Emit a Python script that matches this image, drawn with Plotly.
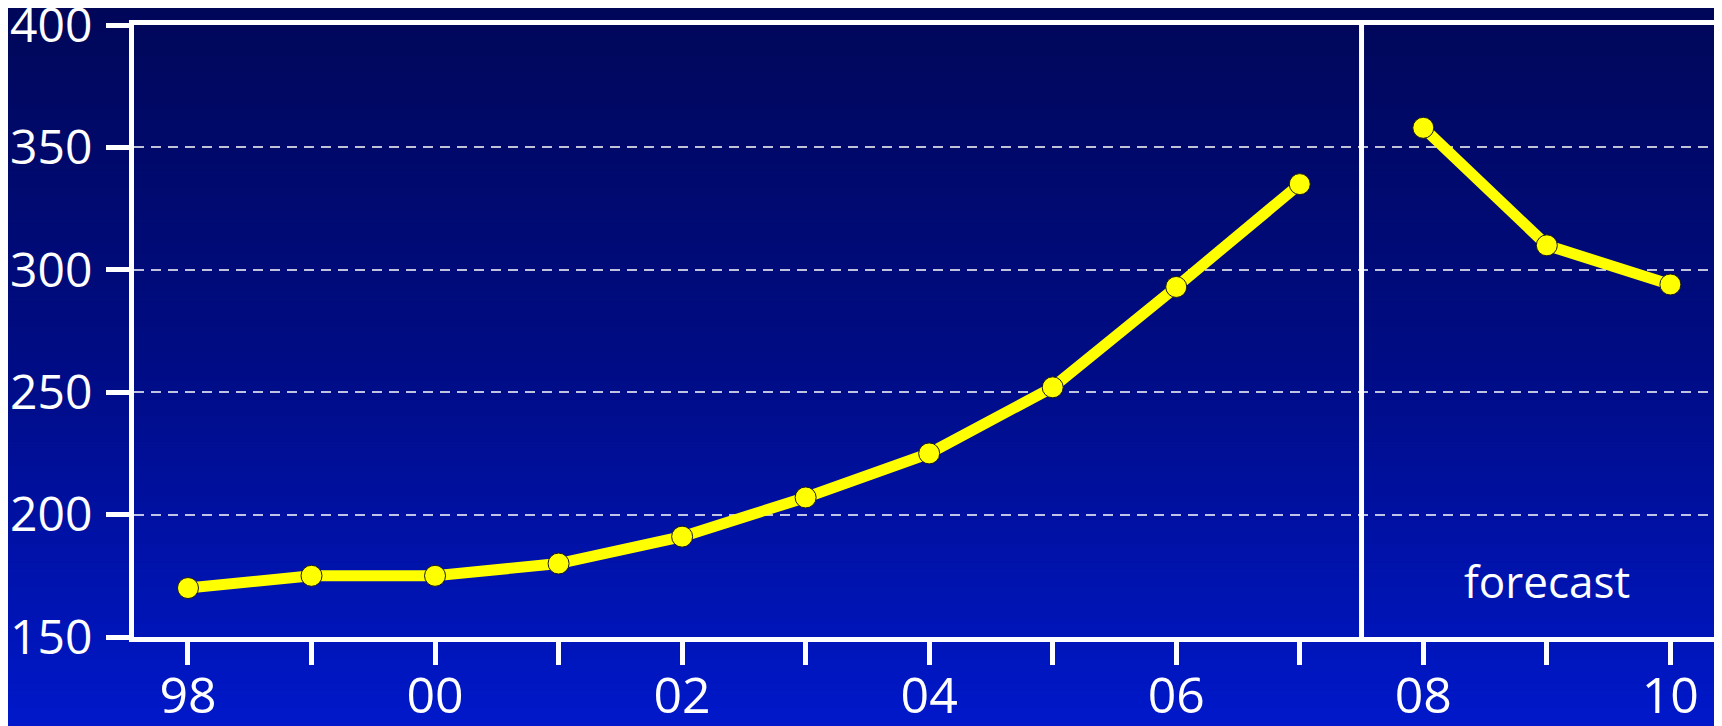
import plotly.graph_objects as go

years = [1998, 1999, 2000, 2001, 2002, 2003, 2004, 2005, 2006, 2007]
values = [170, 175, 175, 180, 191, 207, 225, 252, 293, 335]
fc_years = [2008, 2009, 2010]
fc_values = [358, 310, 294]
tick_years = list(range(1998, 2011))
tick_text = ["98", "", "00", "", "02", "", "04", "", "06", "", "08", "", "10"]
y_ticks = [150, 200, 250, 300, 350, 400]

# page body adds an 8px offset; size the figure so it ends at the window edge
W, H = 1714, 718
ML, MR, MT, MB = 126, 1, 17, 89

fig = go.Figure()
line_style = dict(color="#ffff00", width=11)
marker_style = dict(size=21, color="#ffff00", line=dict(color="#1a1a1a", width=1))
fig.add_trace(go.Scatter(x=years, y=values, mode="lines+markers",
                         line=line_style, marker=marker_style, showlegend=False))
fig.add_trace(go.Scatter(x=fc_years, y=fc_values, mode="lines+markers",
                         line=line_style, marker=marker_style, showlegend=False))

# gradient background bands covering the whole paper (and bleeding past it)
stops = [(0.0, (0, 7, 88)), (0.5, (0, 12, 132)), (1.0, (0, 24, 202))]
def col(t):
    t = min(max(t, 0.0), 1.0)
    for (t0, c0), (t1, c1) in zip(stops[:-1], stops[1:]):
        if t <= t1:
            f = (t - t0) / (t1 - t0)
            return "rgb(%d,%d,%d)" % tuple(round(a + (b - a) * f) for a, b in zip(c0, c1))
    return "rgb(%d,%d,%d)" % stops[-1][1]

ph = H - MT - MB
pw = W - ML - MR
N = 120
total = 726.0
shapes = []
for i in range(N):
    top_w = total * i / N - (8 if i == 0 else 0)
    bot_w = total * (i + 1) / N + (16 if i == N - 1 else 1)
    top_px = top_w - 8
    bot_px = bot_w - 8
    y1 = 1 - (top_px - MT) / ph
    y0 = 1 - (bot_px - MT) / ph
    shapes.append(dict(type="rect", xref="paper", yref="paper",
                       x0=-(ML + 20) / pw, x1=1 + 30 / pw, y0=y0, y1=y1,
                       fillcolor=col((i + 0.5) / N), line=dict(width=0), layer="below"))
# separator between actual and forecast
shapes.append(dict(type="line", xref="x", yref="paper", x0=2007.5, x1=2007.5,
                   y0=0, y1=1, line=dict(color="white", width=5), layer="above"))
fig.update_layout(shapes=shapes)

fig.add_annotation(x=2009, y=173, text="forecast", showarrow=False,
                   font=dict(color="white", size=44, family="Open Sans"))

fig.update_xaxes(range=[1997.563, 2010.41], tickvals=tick_years, ticktext=tick_text,
                 ticks="outside", ticklen=23, tickwidth=5, tickcolor="white",
                 showline=True, linewidth=5, linecolor="white", mirror=True,
                 showgrid=False, zeroline=False, ticklabelstandoff=-12,
                 ticklabeloverflow="allow", automargin=False,
                 tickfont=dict(color="white", size=50, family="Open Sans"))
fig.update_yaxes(range=[150, 400], tickvals=y_ticks,
                 ticks="outside", ticklen=23, tickwidth=5, tickcolor="white",
                 showline=True, linewidth=5, linecolor="white",
                 showgrid=True, gridcolor="rgba(255,255,255,0.75)", gridwidth=1.5,
                 griddash="10px,7px", zeroline=False, ticklabelstandoff=4,
                 ticklabeloverflow="allow", automargin=False,
                 tickfont=dict(color="white", size=48, family="Open Sans"))

fig.update_layout(width=W, height=H, margin=dict(l=ML, r=MR, t=MT, b=MB, pad=0),
                  paper_bgcolor="rgb(0,12,132)", plot_bgcolor="rgba(0,0,0,0)")

fig.write_html("out.html")
